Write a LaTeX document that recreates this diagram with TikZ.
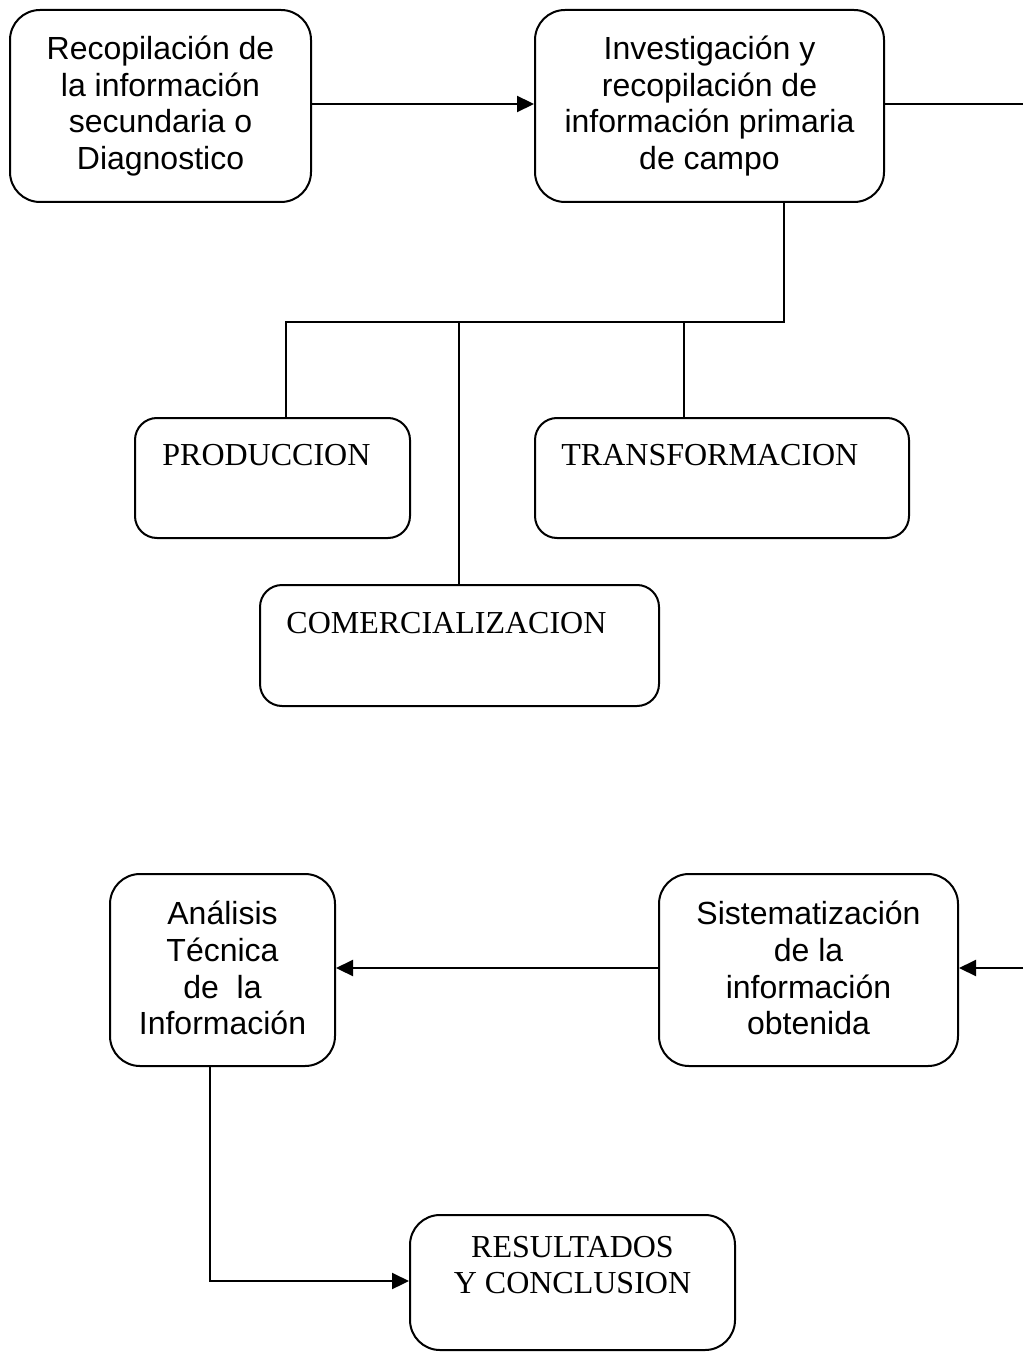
\documentclass[tikz,border=0pt]{standalone}
\usepackage{fontspec}
\setmainfont{Liberation Serif}
\newfontfamily\arialf{Liberation Sans}
\usetikzlibrary{fit,arrows.meta}
\begin{document}
\begin{tikzpicture}[x=0.5pt,y=-0.5pt,
  box/.style={draw,line width=1pt,rounded corners=15pt,inner sep=0pt},
  sbox/.style={draw,line width=1pt,rounded corners=11pt,inner sep=0pt},
  sans/.style={font=\arialf\fontsize{16}{18.4}\selectfont,align=center,inner sep=0pt},
  serif/.style={font=\fontsize{16}{18.4}\selectfont,align=center,inner sep=0pt},
  ln/.style={line width=1.1pt},
  arr/.style={line width=1.1pt,-{Triangle[length=8.5pt,width=8pt]}}]
\useasboundingbox (0,0) rectangle (1023,1352);
% top row
\node[box,fit={(10,10)(311,202)}] (a) {};
\node[sans] (ta) at (160.5,106) {Recopilación de\\la información\\secundaria o\\Diagnostico};
\node[box,fit={(535,10)(884,202)}] (b) {};
\node[sans] (tb) at (709.5,106) {Investigación y\\recopilación de\\información primaria\\de campo};
% branch boxes
\node[sbox,fit={(135,418)(410,538)}] (prod) {};
\node[sbox,fit={(535,418)(909,538)}] (trans) {};
\node[sbox,fit={(260,585)(659,706)}] (comm) {};
\node[serif,anchor=base west] (tprod) at (162,465) {PRODUCCION};
\node[serif,anchor=base west] (ttrans) at (561,465) {TRANSFORMACION};
\node[serif,anchor=base west] (tcomm) at (286,633) {COMERCIALIZACION};
% bottom row
\node[box,fit={(110,874)(335,1066)}] (ana) {};
\node[sans] (tana) at (222.5,968) {Análisis\\Técnica\\de\ \ la\\Información};
\node[box,fit={(659,874)(958,1066)}] (sis) {};
\node[sans] (tsis) at (808.5,968) {Sistematización\\de la\\información\\obtenida};
\node[box,fit={(410,1215)(735,1350)}] (res) {};
\node[serif] (tres) at (572.5,1265) {RESULTADOS\\Y CONCLUSION};
% coordinates
\coordinate (jR) at (784,322);
\coordinate (jL) at (286,322);
\coordinate (jT) at (684,322);
\coordinate (jC) at (459,322);
\coordinate (ed1) at (1023,104);
\coordinate (ed2) at (1023,968);
\coordinate (k) at (210,1281);
% connectors
\draw[arr] (a.east |- ed1) -- (b.west |- ed1);
\draw[ln] (b.east |- ed1) -- (ed1);
\draw[ln] (b.south -| jR) -- (jR) -- (jL) -- (prod.north -| jL);
\draw[ln] (jC) -- (comm.north -| jC);
\draw[ln] (jT) -- (trans.north -| jT);
\draw[arr] (ed2) -- (sis.east |- ed2);
\draw[arr] (sis.west |- ed2) -- (ana.east |- ed2);
\draw[arr] (ana.south -| k) -- (k) -- (res.west |- k);
\end{tikzpicture}
\end{document}
